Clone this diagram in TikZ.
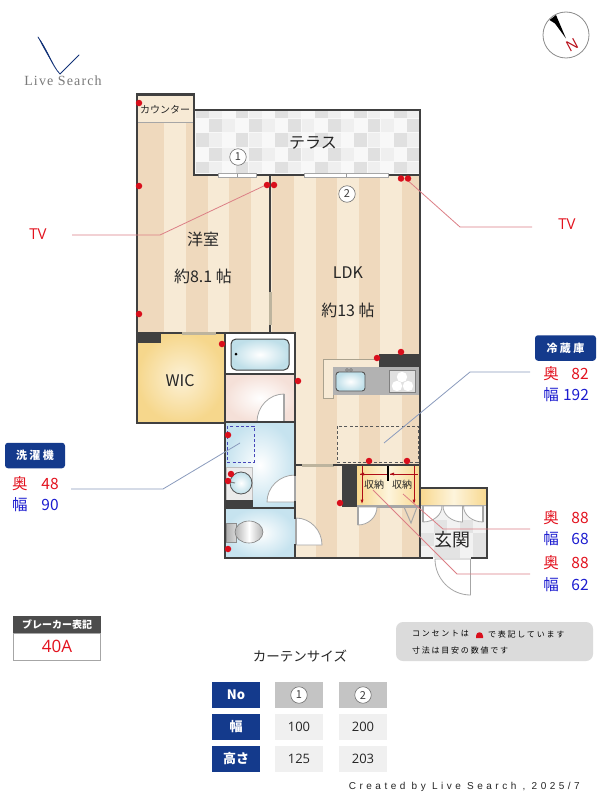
\documentclass[tikz,border=0pt]{standalone}
\usepackage{fontspec}
\usetikzlibrary{calc}
\setmainfont{Open Sans}
\newfontfamily\jp{Noto Sans CJK JP}
\newfontfamily\jpsp[LetterSpace=22]{Noto Sans CJK JP}
\newfontfamily\logofont[LetterSpace=8]{Liberation Serif}
\newfontfamily\credfont[LetterSpace=35]{Liberation Sans}
\definecolor{wall}{HTML}{404040}
\definecolor{stripeA}{HTML}{EFD9BD}
\definecolor{stripeB}{HTML}{F7EAD5}
\definecolor{tan}{HTML}{BDB49E}
\definecolor{navy}{HTML}{143A8C}
\definecolor{outlet}{HTML}{D90F1C}
\definecolor{bluetx}{HTML}{1C1CD0}
\definecolor{redtx}{HTML}{E3121E}
\definecolor{redline}{HTML}{DC7F86}
\definecolor{blueline}{HTML}{8A9BBD}
\definecolor{doorgray}{HTML}{A6A6A6}
\definecolor{tubblue}{HTML}{BFDFE9}
\definecolor{roomblue}{HTML}{C6E3EF}
\definecolor{wicout}{HTML}{F6D78C}
\definecolor{wicin}{HTML}{FCF1D6}
\definecolor{pinkout}{HTML}{F5E0D8}
\definecolor{shelfout}{HTML}{F8D88E}
\definecolor{shelfin}{HTML}{FDF4DC}
\definecolor{tileA}{HTML}{E0E0E0}
\definecolor{tileB}{HTML}{EFEFEF}
\definecolor{tileC}{HTML}{F8F8F8}
\newcommand{\qdoor}[7][doorpath]{%
  \pgfmathsetmacro{\cax}{#4+0.55*(#6-#2)}\pgfmathsetmacro{\cay}{#5+0.55*(#7-#3)}%
  \pgfmathsetmacro{\cbx}{#6+0.55*(#4-#2)}\pgfmathsetmacro{\cby}{#7+0.55*(#5-#3)}%
  \draw[#1] (#2,#3) -- (#4,#5) .. controls (\cax,\cay) and (\cbx,\cby) .. (#6,#7) -- cycle;%
  \draw[doorleaf] (#2,#3) -- (#4,#5);}
\tikzset{
  x=1pt,y=-1pt,
  wallline/.style={draw=wall,line width=2.4pt,line cap=rect},
  thinwall/.style={draw=wall,line width=2pt,line cap=rect},
  tandoor/.style={fill=tan,draw=none},
  win/.style={fill=white,draw=doorgray,line width=.6pt},
  doorpath/.style={fill=white,draw=doorgray,line width=.8pt},
  doorleaf/.style={draw=doorgray,line width=1.3pt},
  dot/.style={circle,fill=outlet,draw=none,inner sep=0pt,minimum size=6.5pt},
  roomlabel/.style={font=\jp\fontsize{16}{16}\selectfont,text=black!85},
  numcirc/.style={circle,draw=black!55,fill=white,line width=.6pt,inner sep=0pt,minimum size=16.5pt,font=\jp\fontsize{11}{11}\selectfont,text=black!75},
  navybox/.style={rectangle,rounded corners=3pt,fill=navy,text=white,minimum width=#1,minimum height=25.5pt,inner sep=0pt,font=\jpsp\bfseries\fontsize{11}{11}\selectfont},
  redval/.style={text=redtx,font=\jp\fontsize{15.5}{16}\selectfont,inner sep=0pt},
  blueval/.style={text=bluetx,font=\jp\fontsize{15.5}{16}\selectfont,inner sep=0pt},
  tblhead/.style={rectangle,fill=navy,text=white,minimum width=48pt,minimum height=26pt,inner sep=0pt,font=\jp\bfseries\fontsize{13}{13}\selectfont},
  tblgray/.style={rectangle,fill=black!23,minimum width=48pt,minimum height=26pt,inner sep=0pt},
  tblval/.style={rectangle,fill=black!6,text=black!85,minimum width=48pt,minimum height=26pt,inner sep=0pt,font=\fontsize{13}{13}\selectfont},
  leadred/.style={draw=redline,line width=.8pt},
  leadblue/.style={draw=blueline,line width=.8pt},
  dim/.style={draw=outlet!80!black,line width=.5pt},
  tipdim/.style={fill=outlet!80!black,draw=none},
  tileoneA/.style={fill=tileA,draw=none},
  tileoneB/.style={fill=tileB,draw=none},
}
\begin{document}
\begin{tikzpicture}
\useasboundingbox (0,0) rectangle (600,800);
\fill[white] (0,0) rectangle (600,800);

% ---------- floors: striped wood
\begin{scope}
\clip (137,122) -- (194,122) -- (194,175) -- (270,175) -- (270,333) -- (137,333) -- cycle;
\fill[stripeB] (137,95) rectangle (270,333);
\foreach \sa/\sb in {137/164,186/207.7,229/250.7} {\fill[stripeA] (\sa,95) rectangle (\sb,333);}
\end{scope}
\fill[stripeB] (138,95) rectangle (193,122);
\draw[black!35,line width=.5pt] (138,122) -- (193,122);
\begin{scope}
\clip (270,175) -- (420,175) -- (420,558) -- (295,558) -- (295,333) -- (270,333) -- cycle;
\fill[stripeB] (270,175) rectangle (420,558);
\foreach \sa in {272,315.5,358.5,402} {\fill[stripeA] (\sa,175) rectangle (\sa+21.5,558);}
\end{scope}

% ---------- terrace tiles
\fill[tileC] (194,110) rectangle (420,175);
\foreach \i in {0,...,16} {
  \pgfmathsetmacro{\xa}{196+13.2*\i}\pgfmathsetmacro{\xb}{\xa+12.8}
  \foreach \ya/\yb/\odd in {111/118/0,118.5/132/1,133/147/0,147.5/161/1,162/173/0} {
    \pgfmathtruncatemacro{\tk}{\odd==1 ? mod(\i+2,3) : mod(\i,3)}
    \ifnum\tk=0 \path[tileoneA] (\xa,\ya) rectangle (\xb,\yb);\fi
    \ifnum\tk=1 \path[tileoneB] (\xa,\ya) rectangle (\xb,\yb);\fi
  }
}

% ---------- WIC
\shade[inner color=wicin,outer color=wicout] (137,333) rectangle (225,423);
\fill[wall] (137,333) rectangle (161,343);

% ---------- bath, wash, toilet
\fill[white] (225,333) rectangle (295,374);
\shade[inner color=white,outer color=tubblue,draw=wall,line width=1pt,rounded corners=5pt] (231,339) rectangle (289,370);
\fill[black] (236,354) circle (1.5);
\shade[inner color=white,outer color=pinkout] (225,374) rectangle (295,422);
\shade[inner color=white,outer color=roomblue] (225,422) rectangle (295,508);
\shade[inner color=white,outer color=roomblue] (225,508) rectangle (295,558);
\fill[black!8] (226,467) rectangle (252,500);
\draw[black!25,line width=.5pt] (226,467) rectangle (252,500);
\shade[inner color=white,outer color=tubblue,draw=wall!90,line width=.8pt] (241,483) circle (11);
\draw[black!50,line width=1pt] (230,482) -- (235,483);
\fill[wall] (225,500) rectangle (253,508);
\draw[dashed,draw=blue!45!gray,line width=.9pt,dash pattern=on 3pt off 2.2pt] (227,426) rectangle (254,462);
\shade[left color=black!32,right color=black!15,draw=black!45,line width=.5pt] (226,523) rectangle (236,542);
\shade[shading angle=45,left color=black!30,right color=black!30,middle color=white,draw=black!50,line width=.6pt] (249,532) ellipse (14 and 11);
\qdoor{284}{422}{284}{394}{257}{422}
\qdoor{295}{502}{295}{475}{267}{502}
\qdoor{296}{545}{296}{518}{322}{545}

% ---------- kitchen
\draw[draw=tan!90!black,line width=.8pt,fill=stripeB] (323,359) -- (379,359) -- (379,367) -- (333,367) -- (333,398) -- (323,398) -- cycle;
\shade[left color=black!30,middle color=black!3,right color=black!30] (333,367) rectangle (419,394);
\shade[inner color=white,outer color=tubblue,draw=wall!90,line width=.9pt,rounded corners=3pt] (336,372) rectangle (365,391);
\draw[black!55,line width=.4pt] (347,370) circle (1.5) (351,370) circle (1.5);
\draw[black!50,fill=black!12,line width=.6pt] (389,370) rectangle (415,392);
\foreach \cx/\cy in {402/377,397/386,408/386} {\fill[white] (\cx,\cy) circle (5.2);}
\fill[wall] (379,354) rectangle (420,367);
\draw[dashed,draw=black!65,line width=.8pt,dash pattern=on 3pt off 2.2pt] (337,426) rectangle (418,462);

% ---------- storage
\shade[left color=shelfout,right color=shelfout,middle color=shelfin] (357,465) rectangle (420,505);
\fill[black!35] (357,505) rectangle (420,507.5);
\fill[wall] (342,464) rectangle (357,507);
\draw[line width=1.6pt,draw=black] (388,465) -- (388,481);
\draw[dim] (360,474) -- (387,474);
\draw[dim] (390,474) -- (418,474);
\draw[dim] (362,466) -- (362,502);
\draw[dim] (414,466) -- (414,502);
\fill[tipdim] (360,474) -- (364,472.5) -- (364,475.5) -- cycle;
\fill[tipdim] (390,474) -- (394,472.5) -- (394,475.5) -- cycle;
\fill[tipdim] (362,503.5) -- (360.5,499.5) -- (363.5,499.5) -- cycle;
\fill[tipdim] (414,503.5) -- (412.5,499.5) -- (415.5,499.5) -- cycle;
\qdoor{358}{507}{358}{525}{377}{507}
\draw[doorgray,line width=1pt] (404,507) -- (411,523) -- (417,507);

% ---------- entrance
\fill[black!5] (420,488) rectangle (487,558);
\begin{scope}
\clip (421,505) rectangle (486,557);
\foreach \xx/\yy in {434/520,460/520,421/533,473/533,447/546,473/546,434/546} {\fill[black!11] (\xx,\yy) rectangle (\xx+13,\yy+13);}
\end{scope}
\shade[left color=shelfout,right color=shelfout,middle color=shelfin] (420,488) rectangle (487,505);
\fill[black!30] (420,504.5) rectangle (487,506);
\qdoor{423}{506}{423}{522}{442}{506}
\qdoor{462.5}{506}{462.5}{522}{443}{506}
\qdoor{483}{506}{483}{522}{463.5}{506}
\qdoor{470.5}{559}{470.5}{595}{435}{559}

% ---------- walls
\draw[wallline] (137,333) -- (137,94.5) -- (194,94.5) -- (194,175) -- (420,175);
\draw[wallline] (194,110) -- (420,110) -- (420,558) -- (225,558) -- (225,333);
\draw[wallline] (137,333) -- (137,423) -- (225,423);
\draw[thinwall] (270,175) -- (270,292);
\draw[thinwall] (270,325) -- (270,333);
\fill[tandoor] (268.5,292) rectangle (271.5,325);
\draw[wallline] (137,333) -- (182,333);
\draw[wallline] (216,333) -- (295,333);
\fill[tandoor] (182,331.5) rectangle (216,335);
\draw[wallline] (295,333) -- (295,475);
\draw[wallline] (295,502) -- (295,518);
\draw[wallline] (295,545) -- (295,558);
\draw[thinwall] (225,374) -- (295,374);
\draw[wallline] (225,422) -- (295,422);
\draw[wallline] (225,508) -- (295,508);
\draw[wallline] (295,465) -- (302,465);
\fill[tandoor] (302,463.5) rectangle (334,467);
\draw[wallline] (334,465) -- (420,465);
% entrance walls
\draw[wallline] (420,488) -- (487,488) -- (487,558) -- (472,558);
\draw[wallline] (432,558) -- (420,558);

% windows
\draw[win] (218,173.5) rectangle (256,177); \draw[black!40,line width=.5pt] (237,173.5) -- (237,177);
\draw[win] (304,173.5) rectangle (388,177); \draw[black!40,line width=.5pt] (346,173.5) -- (346,177);

% ---------- leader lines
\coordinate (tvLend) at (72,235);
\coordinate (tvLbend) at (160,235);
\coordinate (tvLdot) at (268,184);
\coordinate (tvRdot) at (405,178);
\coordinate (tvRbend) at (460,227);
\coordinate (tvRend) at (532,227);
\coordinate (frIn) at (384,443);
\coordinate (frBend) at (470,372);
\coordinate (frEnd) at (530,372);
\coordinate (waIn) at (240,443);
\coordinate (waBend) at (163,489);
\coordinate (waEnd) at (71,489);
\coordinate (stAIn) at (403,494);
\coordinate (stABend) at (443,529);
\coordinate (stAEnd) at (530,529);
\coordinate (stBIn) at (373,490);
\coordinate (stBBend) at (457,574);
\coordinate (stBEnd) at (530,574);
\draw[leadred] (tvLend) -- (tvLbend) -- (tvLdot);
\draw[leadred] (tvRdot) -- (tvRbend) -- (tvRend);
\draw[leadblue] (frIn) -- (frBend) -- (frEnd);
\draw[leadblue] (waIn) -- (waBend) -- (waEnd);
\draw[leadred] (stAIn) -- (stABend) -- (stAEnd);
\draw[leadred] (stBIn) -- (stBBend) -- (stBEnd);

% ---------- outlets
\foreach \n/\p in {o1/{139,103},o2/{139,186},o3/{139,314},o4/{267,185},o5/{274,185},o6/{401,178.5},o7/{408,178.5},o8/{222,344},o9/{298,381},o10/{377,358},o11/{401,352},o12/{369,461},o13/{407,461},o14/{340,503},o15/{228,435},o16/{231,474},o17/{228,481},o18/{228,549}} {
  \node[dot] (\n) at (\p) {};
}

% ---------- room labels
\node[font=\jp\fontsize{10}{10}\selectfont,text=black!85,inner sep=0pt] (counterlbl) at (165,110) {カウンター};
\node[roomlabel,inner sep=0pt] (terrace) at (313,143) {テラス};
\node[roomlabel,inner sep=0pt] (yoshitsu) at (203,239) {洋室};
\node[roomlabel,inner sep=0pt] (yoarea) at (203,276) {約8.1 帖};
\node[roomlabel,inner sep=0pt] (ldk) at (348,273) {LDK};
\node[roomlabel,inner sep=0pt] (ldkarea) at (348,310) {約13 帖};
\node[roomlabel,inner sep=0pt] (wic) at (180,381) {WIC};
\node[font=\jp\fontsize{10}{10}\selectfont,text=black!85,inner sep=0pt] (shuA) at (374,485) {収納};
\node[font=\jp\fontsize{10}{10}\selectfont,text=black!85,inner sep=0pt] (shuB) at (402,485) {収納};
\node[font=\jp\fontsize{18}{18}\selectfont,text=black!85,inner sep=0pt] (genkan) at (452,540) {玄関};
\node[numcirc] (c1) at (238,157) {1};
\node[numcirc] (c2) at (347,194) {2};

% ---------- logo and compass
\fill[navy!85!black] (38,37) .. controls (47,48) and (52,64) .. (60,74) .. controls (54,66) and (44,50) .. cycle;
\draw[draw=navy!85!black,line width=.9pt,line cap=round] (60,74) .. controls (66,68) and (72,62) .. (79,55);
\draw[draw=navy!85!black,line width=.7pt,line cap=round] (38,37) .. controls (46,48) and (52,66) .. (60,74);
\node[font=\logofont\fontsize{14}{14}\selectfont,text=black!52,inner sep=0pt] (logo) at (63,81) {Live Search};
\draw[black!45,fill=white,line width=.8pt] (566,35) circle (23);
\fill[black] (549.5,20) -- (556,15) -- (566,38.5) -- (555,23.5) -- cycle;
\node[rotate=28,text=outlet!85!black,font=\fontsize{15}{15}\selectfont,inner sep=0pt] (north) at (572,45) {N};

% ---------- TV
\node[text=redtx,font=\fontsize{15}{15}\selectfont,inner sep=0pt] (tvL) at (38,234) {TV};
\node[text=redtx,font=\fontsize{15}{15}\selectfont,inner sep=0pt] (tvR) at (567,224) {TV};

% ---------- fridge block
\node[navybox=61pt] (fridge) at (565.5,348) {冷蔵庫};
\node[redval] (f1) at (551,374) {奥};
\node[redval] (f2) at (580,374) {82};
\node[blueval] (f3) at (551,395) {幅};
\node[blueval] (f4) at (576,395) {192};
\node[redval] (a1) at (551,518) {奥};
\node[redval] (a2) at (580,518) {88};
\node[blueval] (a3) at (551,539) {幅};
\node[blueval] (a4) at (580,539) {68};
\node[redval] (b1) at (551,563) {奥};
\node[redval] (b2) at (580,563) {88};
\node[blueval] (b3) at (551,585) {幅};
\node[blueval] (b4) at (580,585) {62};

% ---------- washer block
\node[navybox=60pt] (washer) at (35,455.5) {洗濯機};
\node[redval] (w1) at (20,484) {奥};
\node[redval] (w2) at (50,484) {48};
\node[blueval] (w3) at (20,505) {幅};
\node[blueval] (w4) at (50,505) {90};

% ---------- breaker
\node[fill=black!70,text=white,minimum width=88pt,minimum height=17pt,inner sep=0pt,font=\jp\bfseries\fontsize{10}{10}\selectfont] (brkh) at (57,624.5) {ブレーカー表記};
\node[fill=white,draw=black!35,line width=.7pt,text=redtx,minimum width=87.5pt,minimum height=27pt,inner sep=0pt,font=\fontsize{17}{17}\selectfont] (brkv) at (57,646.5) {40A};

% ---------- notice
\fill[black!14,rounded corners=7pt] (396,622) rectangle (593,661);
\node[anchor=west,font=\jpsp\fontsize{8}{8}\selectfont,text=black,inner sep=0pt] (nt1) at (412,634) {コンセントは};
\fill[outlet] (476,638) -- (476,636) .. controls (476,631) and (483,631) .. (483,636) -- (483,638) -- cycle;
\node[anchor=west,font=\jpsp\fontsize{8}{8}\selectfont,text=black,inner sep=0pt] (nt2) at (488,634) {で表記しています};
\node[anchor=west,font=\jpsp\fontsize{8}{8}\selectfont,text=black,inner sep=0pt] (nt3) at (412,650) {寸法は目安の数値です};

% ---------- curtain table
\node[font=\jp\fontsize{13.5}{14}\selectfont,text=black!85,inner sep=0pt] (curt) at (300,656) {カーテンサイズ};
\node[tblhead] (r1h) at (236,695) {No};
\node[tblgray] (r1a) at (299,695) {};
\node[tblgray] (r1b) at (363,695) {};
\node[numcirc] (r1an) at (r1a) {1};
\node[numcirc] (r1bn) at (r1b) {2};
\node[tblhead] (r2h) at (236,727) {幅};
\node[tblval] (r2a) at (299,727) {100};
\node[tblval] (r2b) at (363,727) {200};
\node[tblhead] (r3h) at (236,759) {高さ};
\node[tblval] (r3a) at (299,759) {125};
\node[tblval] (r3b) at (363,759) {203};

\node[anchor=east,font=\credfont\fontsize{10}{10}\selectfont,text=black!85,inner sep=0pt] (cred) at (580,787) {Created by Live Search , 2025/7};
\end{tikzpicture}
\end{document}
